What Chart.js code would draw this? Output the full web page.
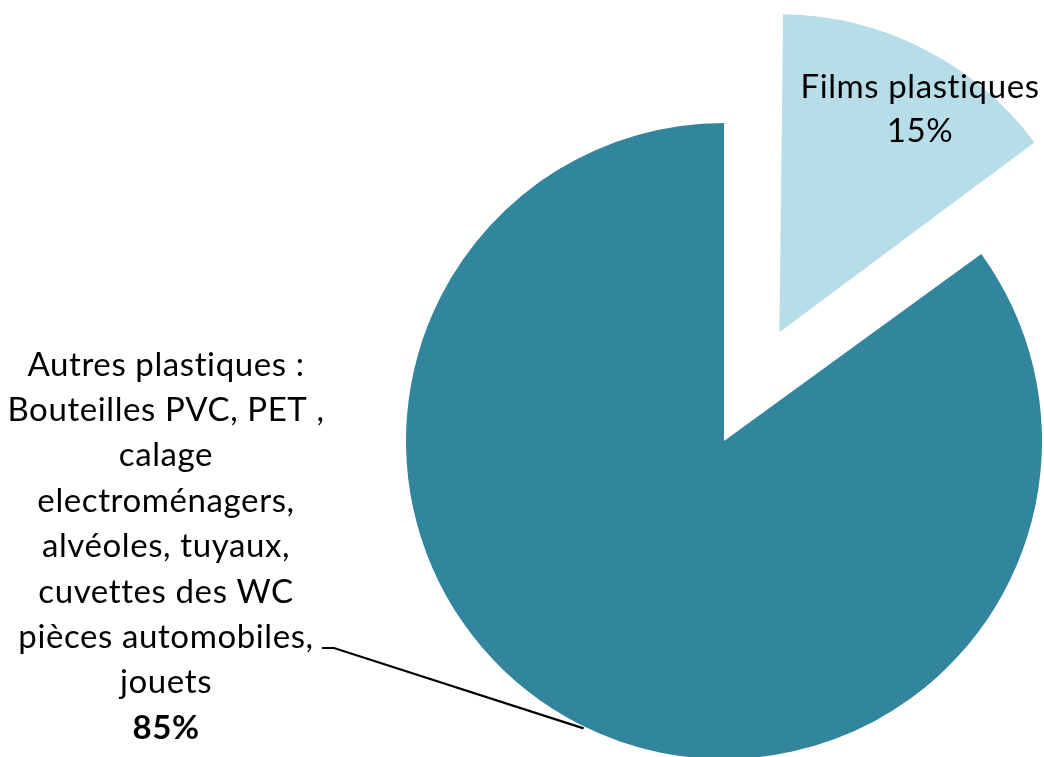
<!DOCTYPE html>
<html>
<head>
<meta charset="utf-8">
<script src="https://cdn.jsdelivr.net/npm/chart.js@4.4.1/dist/chart.umd.min.js"></script>
<style>
  html, body { margin: 0; padding: 0; background: #ffffff; }
  #wrap { width: 1044px; height: 757px; position: relative; }
</style>
</head>
<body>
<div id="wrap"><canvas id="c" width="1044" height="757"></canvas></div>
<script>
const categories = ["Films plastiques", "Autres plastiques"];
const values = [15, 85];
const colors = ["#B7DEE8", "#31859C"];
const labelLines = [
  ["Films plastiques", "15%"],
  ["Autres plastiques :", "Bouteilles PVC, PET ,", "calage", "electroménagers,", "alvéoles, tuyaux,", "cuvettes des WC", "pièces automobiles,", "jouets", "85%"]
];
const boldLastLine = [false, true];

const FONT = 'Lato, "Open Sans", sans-serif';
const FS = 33;
const EXPLODE = 122; // pixel displacement of the exploded slice

// Chart.js v4 draws an offset arc translated by offset/4 and enlarged by
// (offset/4)*(1-sin(circumference)); keep the exploded slice at the same radius.
const keepRadiusPlugin = {
  id: 'keepRadius',
  afterDatasetUpdate(chart, args) {
    const meta = chart.getDatasetMeta(args.index);
    const ref = meta.data[1];
    meta.data.forEach((arc, i) => {
      const off = (Array.isArray(chart.data.datasets[0].offset) ? chart.data.datasets[0].offset[i] : 0) / 4;
      const circ = arc.endAngle - arc.startAngle;
      const grow = off * (1 - Math.sin(Math.min(Math.PI, circ)));
      arc.outerRadius = ref.outerRadius - grow;
    });
  }
};

const labelPlugin = {
  id: 'pieLabels',
  afterDatasetsDraw(chart) {
    const ctx = chart.ctx;
    const meta = chart.getDatasetMeta(0);
    const a1 = meta.data[1];
    const R = a1.outerRadius;
    const cx = a1.x, cy = a1.y;
    ctx.save();
    ctx.fillStyle = '#000000';
    ctx.textAlign = 'center';
    ctx.textBaseline = 'middle';
    if ('letterSpacing' in ctx) ctx.letterSpacing = '0.6px';
    // Films plastiques label
    const l0 = labelLines[0];
    const fx = cx + 196, fy0 = cy - 354, lh0 = 44;
    l0.forEach((t, i) => {
      ctx.font = FS + 'px ' + FONT;
      ctx.fillText(t, fx, fy0 + i * lh0);
    });
    // Autres label
    const l1 = labelLines[1];
    const ax = 166, ay0 = 365, lh1 = 45.4;
    l1.forEach((t, i) => {
      const bold = boldLastLine[1] && i === l1.length - 1;
      ctx.font = (bold ? 'bold ' : '') + FS + 'px ' + FONT;
      ctx.fillText(t, ax, ay0 + i * lh1);
    });
    // leader line to the mid-angle point on the slice edge
    const mid = (a1.startAngle + a1.endAngle) / 2;
    const px = cx + Math.cos(mid) * R;
    const py = cy + Math.sin(mid) * R;
    ctx.strokeStyle = '#000000';
    ctx.lineWidth = 2.2;
    ctx.beginPath();
    ctx.moveTo(322, 648);
    ctx.lineTo(334, 648);
    ctx.lineTo(px + 4, py + 4);
    ctx.stroke();
    ctx.restore();
  }
};

new Chart(document.getElementById('c'), {
  type: 'pie',
  data: {
    labels: categories,
    datasets: [{
      data: values,
      backgroundColor: colors,
      borderWidth: 0,
      offset: [EXPLODE * 4, 0],
      hoverOffset: 0,
      clip: false
    }]
  },
  options: {
    responsive: false,
    animation: false,
    radius: 318,
    rotation: 0,
    layout: { padding: { left: 404, top: 125, right: 0, bottom: 0 } },
    plugins: {
      legend: { display: false },
      tooltip: { enabled: false },
      title: { display: false }
    },
    events: []
  },
  plugins: [keepRadiusPlugin, labelPlugin]
});
</script>
</body>
</html>
